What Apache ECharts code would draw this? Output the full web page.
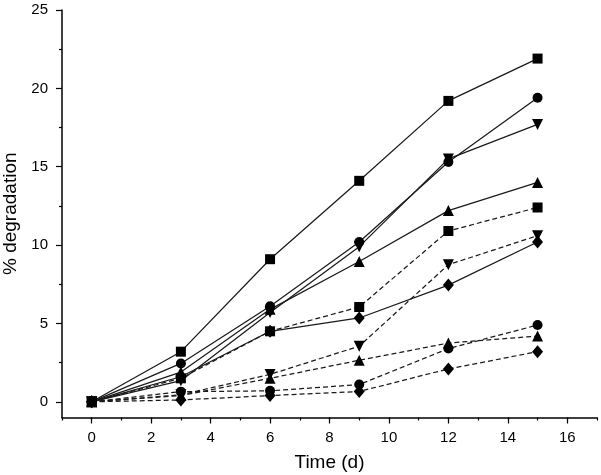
<!DOCTYPE html>
<html>
<head>
<meta charset="utf-8">
<script src="https://cdn.jsdelivr.net/npm/echarts@6/dist/echarts.min.js"></script>
<style>html,body{margin:0;padding:0;background:#fff;}#c{width:601px;height:475px;}</style>
</head>
<body>
<div id="c"></div>
<script>
const days = [0, 3, 6, 9, 12, 15];
const xTickLabels = [0, 2, 4, 6, 8, 10, 12, 14, 16];
const yTickLabels = [0, 5, 10, 15, 20, 25];
const yMinorTicks = [2.5, 7.5, 12.5, 17.5, 22.5];

const squareSolid   = [0, 3.2, 9.1, 14.1, 19.2, 21.9];
const circleSolid   = [0, 2.45, 6.1, 10.2, 15.3, 19.4];
const downTriSolid  = [0, 1.35, 5.7, 9.9, 15.5, 17.7];
const upTriSolid    = [0, 1.9, 5.9, 8.95, 12.2, 14.0];
const diamondSolid  = [0, 1.6, 4.5, 5.35, 7.45, 10.2];

const squareDashed  = [0, 1.5, 4.5, 6.05, 10.9, 12.4];
const downTriDashed = [0, 0.45, 1.75, 3.55, 8.75, 10.6];
const upTriDashed   = [0, 0.4, 1.5, 2.65, 3.75, 4.2];
const circleDashed  = [0, 0.65, 0.7, 1.1, 3.4, 4.9];
const diamondDashed = [0, 0.12, 0.4, 0.66, 2.1, 3.2];

function pairs(vals){ return days.map((d,i)=>[d, vals[i]]); }

function mk(name, vals, symbol, dashed, rotate, size){
  return {
    name: name, type: 'line', data: pairs(vals),
    symbol: symbol, symbolSize: size || 10, symbolRotate: rotate || 0,
    itemStyle: {color: '#000'},
    lineStyle: {color: '#1a1a1a', width: 1.25, type: dashed ? [5,3] : 'solid'},
    emphasis: {disabled: true},
    animation: false, z: 3
  };
}

const chart = echarts.init(document.getElementById('c'), null, {renderer: 'canvas'});
const font = 'Liberation Sans, Arial, sans-serif';
const axisLineStyle = {show: true, onZero: false, lineStyle: {color: '#000', width: 1.5}};
const noLine = {show: false, onZero: false};
chart.setOption({
  backgroundColor: '#fff',
  animation: false,
  grid: {left: 62, right: 4, top: 10, bottom: 57.5, containLabel: false, outerBoundsMode: 'none'},
  xAxis: [{
    type: 'value', min: -1, max: 17, interval: 1,
    axisLine: axisLineStyle,
    axisTick: {show: true, length: 6, customValues: xTickLabels, lineStyle: {color: '#000', width: 1.2}},
    axisLabel: {customValues: xTickLabels, fontSize: 15, color: '#000', fontFamily: font, margin: 13},
    splitLine: {show: false},
    name: 'Time (d)', nameLocation: 'middle', nameGap: 36,
    nameTextStyle: {fontSize: 19, color: '#000', fontFamily: font}
  }, {
    type: 'value', min: -1, max: 17, interval: 1, position: 'bottom',
    axisLine: noLine,
    axisTick: {show: true, length: 3, lineStyle: {color: '#000', width: 1.2}},
    axisLabel: {show: false}, splitLine: {show: false}
  }],
  yAxis: [{
    type: 'value', min: -1, max: 25, interval: 1,
    axisLine: axisLineStyle,
    axisTick: {show: true, length: 6, customValues: yTickLabels, lineStyle: {color: '#000', width: 1.2}},
    axisLabel: {customValues: yTickLabels, fontSize: 15, color: '#000', fontFamily: font, margin: 14},
    splitLine: {show: false},
    name: '% degradation', nameLocation: 'middle', nameGap: 42, nameRotate: 90,
    nameTextStyle: {fontSize: 19, color: '#000', fontFamily: font}
  }, {
    type: 'value', min: -1, max: 25, interval: 1, position: 'left',
    axisLine: noLine,
    axisTick: {show: true, length: 3, customValues: yMinorTicks, lineStyle: {color: '#000', width: 1.2}},
    axisLabel: {show: false}, splitLine: {show: false}
  }],
  series: [
    mk('square solid', squareSolid, 'rect', false),
    mk('circle solid', circleSolid, 'circle', false, 0, 10),
    mk('down triangle solid', downTriSolid, 'triangle', false, 180, 11),
    mk('up triangle solid', upTriSolid, 'triangle', false, 0, 11),
    mk('diamond solid', diamondSolid, 'diamond', false, 0, [11, 13]),
    mk('square dashed', squareDashed, 'rect', true),
    mk('down triangle dashed', downTriDashed, 'triangle', true, 180, 11),
    mk('up triangle dashed', upTriDashed, 'triangle', true, 0, 11),
    mk('circle dashed', circleDashed, 'circle', true, 0, 10),
    mk('diamond dashed', diamondDashed, 'diamond', true, 0, [11, 13])
  ]
});
</script>
</body>
</html>
